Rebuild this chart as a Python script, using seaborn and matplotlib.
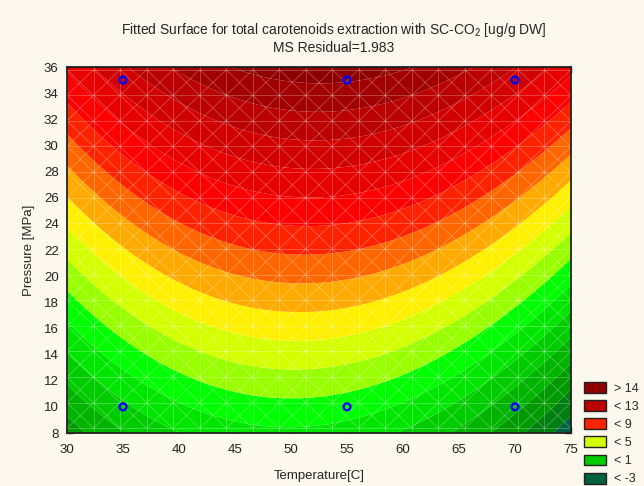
import numpy as np
import matplotlib
matplotlib.use("Agg")
import matplotlib.pyplot as plt
from matplotlib.patches import Patch
from matplotlib.collections import LineCollection
import seaborn as sns

# design points of the experiment
temp_points = [35, 55, 70, 35, 55, 70]
press_points = [10, 10, 10, 35, 35, 35]

# fitted model: const, T, P, T^2, T*P
model_terms = ["const", "T", "P", "T2", "TP"]
model_coef = [-22.31, 0.838, 0.362, -0.00857, 0.00184]

# contour levels and band colours (Statistica style)
levels = [-10, -3, -2, -1, 0, 1, 2, 3, 4, 5, 6, 7, 8, 9, 10, 11, 12, 13, 14, 40]
band_colors = ["#006040", "#007E10", "#009A00", "#00B400", "#00CC00", "#00E600",
               "#00FF00", "#99FF00", "#D4FF00", "#FFF000", "#FFAA00", "#FF6600",
               "#FF2200", "#FF0000", "#E60000", "#D00000", "#BA0000", "#A20000",
               "#8E0000"]

legend_labels = ["> 14", "< 13", "< 9", "< 5", "< 1", "< -3"]
legend_colors = ["#8E0000", "#BA0000", "#FF2200", "#D4FF00", "#00CC00", "#006040"]

x_ticks = list(range(30, 80, 5))
y_ticks = list(range(8, 38, 2))

bg = "#FDF8EE"
sns.set_theme(style="ticks")
plt.rcParams["font.family"] = ["Liberation Sans", "DejaVu Sans"]
plt.rcParams["mathtext.fontset"] = "custom"
plt.rcParams["mathtext.rm"] = "Liberation Sans"
plt.rcParams["mathtext.it"] = "Liberation Sans"

fig = plt.figure(figsize=(6.44, 4.86), dpi=100, facecolor=bg)
ax = fig.add_axes([67 / 644, 1 - 433 / 486, 504 / 644, 366 / 486])

T = np.linspace(30, 75, 300)
P = np.linspace(8, 36, 300)
TT, PP = np.meshgrid(T, P)
c = dict(zip(model_terms, model_coef))
Z = c["const"] + c["T"] * TT + c["P"] * PP + c["T2"] * TT ** 2 + c["TP"] * TT * PP

ax.contourf(TT, PP, Z, levels=levels, colors=band_colors, antialiased=True)

# faint triangulated mesh overlay
xs = np.linspace(30, 75, 20)
ys = np.linspace(8.36, 35.8, 15)
segs = []
for x in xs:
    segs.append([(x, 8), (x, 36)])
for y in ys:
    segs.append([(30, y), (75, y)])
for i in range(len(xs) - 1):
    for j in range(len(ys) - 1):
        segs.append([(xs[i], ys[j]), (xs[i + 1], ys[j + 1])])
        segs.append([(xs[i], ys[j + 1]), (xs[i + 1], ys[j])])
ax.add_collection(LineCollection(segs, colors="white", linewidths=0.7, alpha=0.25))

sns.scatterplot(x=temp_points, y=press_points, ax=ax, marker="o", s=24,
                facecolor="none", edgecolor="#0000FF", linewidth=1.7, zorder=5)

ax.set_xlim(30, 75)
ax.set_ylim(8, 36)
ax.set_xticks(x_ticks)
ax.set_yticks(y_ticks)
ax.tick_params(direction="in", length=4, width=1, top=True, right=True,
               labelsize=9.5, colors="#222222")
ax.tick_params(axis="x", pad=8)
ax.tick_params(axis="y", pad=6)
for s in ax.spines.values():
    s.set_linewidth(1.3)
    s.set_color("#222222")

ax.set_xlabel("Temperature[C]", fontsize=9.5, labelpad=10)
ax.set_ylabel("Pressure [MPa]", fontsize=9.5, labelpad=6)

fig.text(334 / 644, 1 - 30 / 486,
         "Fitted Surface for total carotenoids extraction with SC-CO$_2$ [ug/g DW]",
         ha="center", va="center", fontsize=10)
fig.text(334 / 644, 1 - 48 / 486, "MS Residual=1.983",
         ha="center", va="center", fontsize=10)

handles = [Patch(facecolor=col, edgecolor="#222222", linewidth=1) for col in legend_colors]
fig.legend(handles, legend_labels, loc="lower left",
           bbox_to_anchor=(573 / 644, -0.022), frameon=False, fontsize=9,
           handlelength=1.75, handleheight=0.95, labelspacing=0.44, handletextpad=0.65)

fig.savefig("out.png", dpi=100, facecolor=bg)
